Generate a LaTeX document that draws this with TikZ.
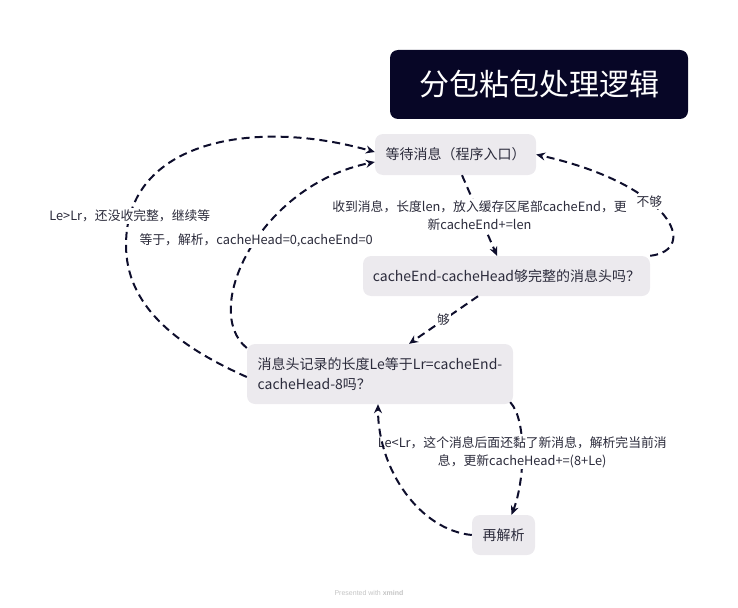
\documentclass[tikz,border=0pt]{standalone}
\usepackage{fontspec}
\setmainfont{Noto Sans CJK SC}
\newfontfamily\footfont{Liberation Sans}
\usetikzlibrary{arrows.meta}
\definecolor{navy}{HTML}{070626}
\definecolor{nodefill}{HTML}{ECEAEE}
\definecolor{txt}{HTML}{2B2B3B}
\definecolor{edgec}{HTML}{0E0E2C}
\definecolor{footc}{HTML}{C4C4C4}
\begin{document}
\begin{tikzpicture}[x=1pt,y=-1pt,
  box/.style={fill=nodefill,rounded corners=8pt,text=txt,font=\fontsize{14}{20}\selectfont,inner sep=0pt},
  conn/.style={draw=edgec,line width=2pt,dash pattern=on 8pt off 5pt,-{Stealth[length=9pt,width=8pt]}},
  lbl/.style={fill=white,text=txt,font=\fontsize{12.8}{18}\selectfont,inner sep=1.5pt,align=center}]
\useasboundingbox (0,0) rectangle (738,607);

% title
\node[fill=navy,rounded corners=8pt,minimum width=298pt,minimum height=69pt,text=white,
      font=\fontsize{30}{34}\selectfont,inner sep=0pt] (title) at (539,84.5) {分包粘包处理逻辑};

% nodes
\node[box,minimum width=161pt,minimum height=41pt] (A) at (455.5,154.5) {等待消息（程序入口）};
\node[box,minimum width=287pt,minimum height=40pt] (B) at (506.5,276) {cacheEnd-cacheHead够完整的消息头吗？};
\node[box,minimum width=266pt,minimum height=60pt,align=left] (C) at (380,374)
     {消息头记录的长度Le等于Lr=cacheEnd-\\cacheHead-8吗？};
\node[box,minimum width=63pt,minimum height=40pt] (D) at (503.5,535) {再解析};

% connectors
\draw[conn] ([xshift=6.5pt]A.south) -- node[lbl,pos=0.5]{收到消息，长度len，放入缓存区尾部cacheEnd，更\\新cacheEnd+=len} ([xshift=-9.5pt]B.north);

\draw[conn] (B.north east) .. controls (700,250) and (672,185) .. (A.east)
   node[lbl,pos=0.6]{不够};

\draw[conn] ([xshift=-28.5pt]B.south) -- node[lbl,pos=0.5]{够} ([xshift=29pt]C.north);

\draw[conn] ([yshift=-3pt]C.west) .. controls (175,345) and (126,305) .. (126,245)
   .. controls (126,140) and (255,118) .. ([yshift=2.5pt]A.west)
   node[lbl,pos=0.1]{Le>Lr，还没收完整，继续等};

\draw[conn] ([yshift=26pt]C.west) .. controls (200,310) and (260,185) .. ([yshift=-7.5pt]A.west)
   node[lbl,pos=0.54]{等于，解析，cacheHead=0,cacheEnd=0};

\draw[conn] ([xshift=-3pt,yshift=2pt]C.south east) .. controls (527,420) and (525,480) .. ([xshift=8pt]D.north)
   node[lbl,pos=0.5]{Le<Lr，这个消息后面还黏了新消息，解析完当前消\\息，更新cacheHead+=(8+Le)};

\draw[conn] (D.west) .. controls (420,530) and (378,470) .. ([xshift=-2pt]C.south);

% footer
\node[text=footc,font=\footfont\fontsize{7}{8}\selectfont,inner sep=0pt] (foot) at (369,593) {Presented with \textbf{xmind}};
\end{tikzpicture}
\end{document}
